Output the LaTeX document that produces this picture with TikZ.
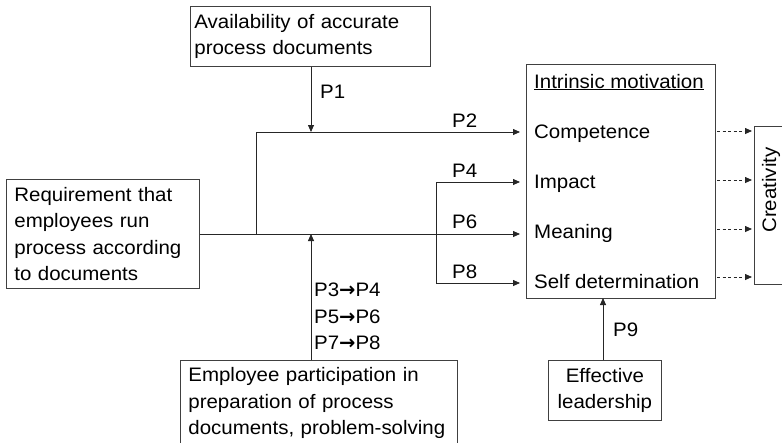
\documentclass[tikz,border=0pt]{standalone}
\usepackage{fontspec}
\setmainfont{Liberation Sans}[FakeStretch=1.05]
\newfontfamily\arrfont{DejaVu Sans}
\usetikzlibrary{arrows.meta}
\begin{document}
\begin{tikzpicture}[x=1pt,y=-1pt,
  every node/.style={font=\fontsize{19.5}{26.5}\selectfont, inner sep=0pt},
  box/.style={draw=black!75, line width=0.8pt, anchor=north west, align=left, inner xsep=8pt},
  lbl/.style={anchor=base west},
  conn/.style={draw=black!85, line width=0.8pt},
  arr/.style={conn, -{Triangle[length=7pt,width=6pt]}},
  darr/.style={draw=black!85, line width=0.8pt, dash pattern=on 3pt off 2.5pt, -{Triangle[length=7pt,width=6pt]}}
]
\clip (0,0) rectangle (782,442);
\fill[white] (0,0) rectangle (782,442);

% boxes
\node[box, inner xsep=4pt, text width=232pt, minimum width=240pt, minimum height=60pt] (avail) at (190,6)
  {Availability of accurate\\process documents};
\node[box, text width=177pt, minimum width=193pt, minimum height=109pt] (req) at (6,179)
  {Requirement that\\employees run\\process according\\to documents};
\node[box, text width=261pt, minimum width=277pt, minimum height=86pt] (emp) at (180,360)
  {Employee participation in\\preparation of process\\documents, problem-solving};
\node[draw=black!75, line width=0.8pt, anchor=north west, minimum width=189pt, minimum height=234pt] (im) at (526,64) {};
\node[draw=black!75, line width=0.8pt, anchor=north west, minimum width=113pt, minimum height=60pt, align=center] (lead) at (548,360)
  {Effective\\leadership};
\node[draw=black!75, line width=0.8pt, anchor=north west, minimum width=40pt, minimum height=158pt] (cre) at (754,126) {};
\node[rotate=90, anchor=base] (cretxt) at (776,190) {Creativity};

% intrinsic motivation contents
\node[lbl] (imt) at (534,88) {\underline{Intrinsic motivation}};
\node[lbl] (comp) at (534,138) {Competence};
\node[lbl] (imp) at (534,188) {Impact};
\node[lbl] (mean) at (534,238) {Meaning};
\node[lbl] (self) at (534,288) {Self determination};

% junction coordinates
\coordinate (j1) at (256,234);
\coordinate (j2) at (256,132);
\coordinate (tP2) at (520,132);
\coordinate (tP1) at (311,132);
\coordinate (tP4) at (520,182);
\coordinate (tP6) at (520,234);
\coordinate (tP8) at (520,283);
\coordinate (b4) at (436,182);
\coordinate (b8) at (436,283);
\coordinate (tP3) at (311,234);
\coordinate (tP9) at (603,298);

% connectors
\draw[arr] (avail.south -| tP1) -- (tP1);
\draw[arr] (j1) -- (j2) -- (tP2);
\draw[arr] (req.east |- tP6) -- (tP6);
\draw[arr] (b4) -- (tP4);
\draw[arr] (b8) -- (tP8);
\draw[conn] (b4) -- (b8);
\draw[arr] (emp.north -| tP3) -- (tP3);
\draw[arr] (lead.north -| tP9) -- (tP9);

% dashed to creativity
\foreach \yy in {131,180,229,277}{
  \draw[darr] (717,\yy) -- (752,\yy);
}

% labels
\node[lbl] (p1) at (320,98) {P1};
\node[lbl] (p2) at (452,127) {P2};
\node[lbl] (p4) at (452,177) {P4};
\node[lbl] (p6) at (452,228) {P6};
\node[lbl] (p8) at (452,278) {P8};
\node[lbl] (p9) at (613,336) {P9};
\node[anchor=north west, align=left] (p357) at (314,283)
  {P3{\arrfont\bfseries →}P4\\P5{\arrfont\bfseries →}P6\\P7{\arrfont\bfseries →}P8};
\end{tikzpicture}
\end{document}
